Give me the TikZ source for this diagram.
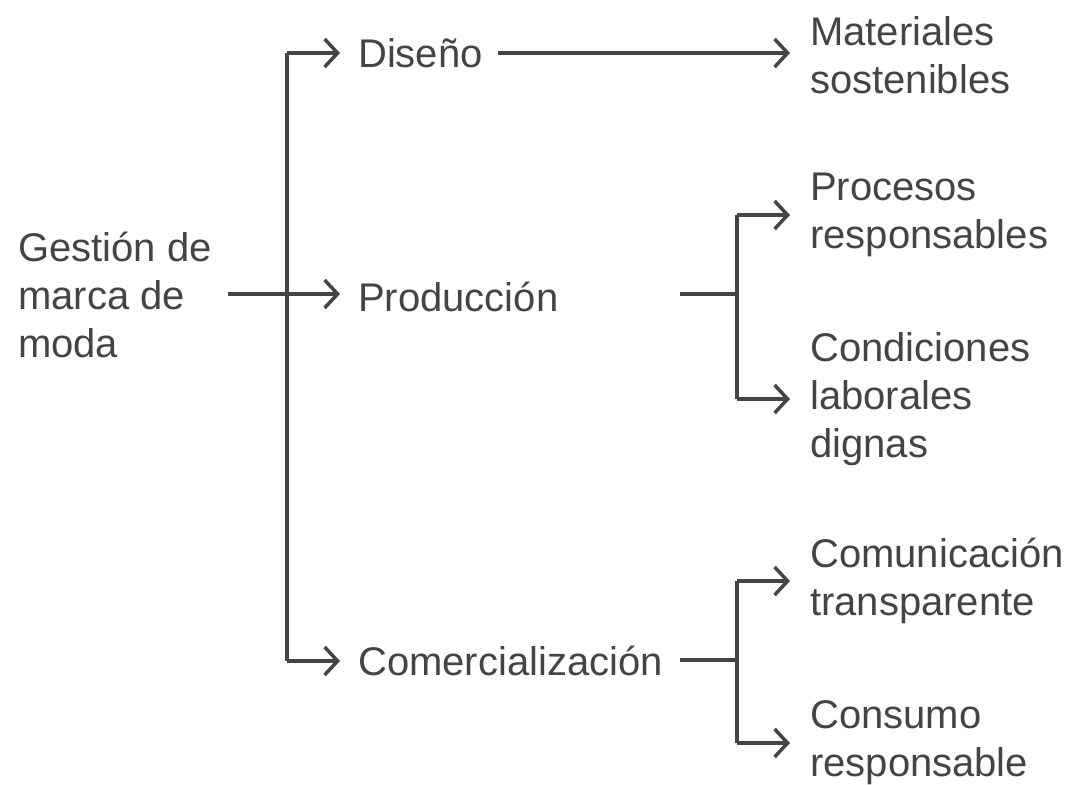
\documentclass[tikz,border=0pt]{standalone}
\usepackage{fontspec}
\setmainfont{Liberation Sans}
\usepackage{xcolor}
\usetikzlibrary{arrows.meta,positioning}
\definecolor{ink}{HTML}{444444}

\begin{document}
\begin{tikzpicture}[
    x=1pt, y=-1pt,
    lbl/.style = {inner sep=0pt, align=left, anchor=west, text=ink,
                  font=\fontsize{40}{48}\selectfont},% text nodes
    conn/.style = {draw=ink, line width=3.5pt},% plain connector
    arr/.style = {conn, -{Straight Barb[length=13pt, width=28pt, line width=3.5pt]}}% arrow
    ]
    \useasboundingbox (0,0) rectangle (1072,785);
    % nodes
    \node (root) [lbl] at (18,295) {Gestión de\\marca de\\moda};
    \node (dis)  [lbl] at (358,53)  {Diseño};
    \node (prod) [lbl] at (358,297) {Producción};
    \node (com)  [lbl] at (358,661) {Comercialización};
    \node (mat)  [lbl] at (810,55)  {Materiales\\sostenibles};
    \node (proc) [lbl] at (810,215) {Procesos\\responsables};
    \node (cond) [lbl] at (810,399) {Condiciones\\laborales\\dignas};
    \node (comu) [lbl] at (810,581) {Comunicación\\transparente};
    \node (cons) [lbl] at (810,743) {Consumo\\responsable};
    % junctions
    \coordinate (rs) at (228,294);
    \coordinate (tk) at (287,294);
    \coordinate (ps) at (680,294);
    \coordinate (pj) at (737,294);
    \coordinate (cs) at (680,660);
    \coordinate (cj) at (737,660);
    % connectors
    \draw[conn] (tk |- dis.west) -- (tk |- com.west);
    \draw[arr, shorten >=18pt] (rs) -- (rs -| prod.west);
    \draw[arr, shorten >=18pt] (tk |- dis.west) -- (dis.west);
    \draw[arr, shorten >=18pt] (tk |- com.west) -- (com.west);
    \draw[arr, shorten <=15pt, shorten >=20pt] (dis.east) -- (mat.west |- dis.east);
    \draw[conn] (ps) -- (pj);
    \draw[conn] (pj |- proc.west) -- (pj |- cond.west);
    \draw[arr, shorten >=20pt] (pj |- proc.west) -- (proc.west);
    \draw[arr, shorten >=20pt] (pj |- cond.west) -- (cond.west);
    \draw[conn] (cs) -- (cj);
    \draw[conn] (cj |- comu.west) -- (cj |- cons.west);
    \draw[arr, shorten >=20pt] (cj |- comu.west) -- (comu.west);
    \draw[arr, shorten >=20pt] (cj |- cons.west) -- (cons.west);
\end{tikzpicture}
\end{document}
